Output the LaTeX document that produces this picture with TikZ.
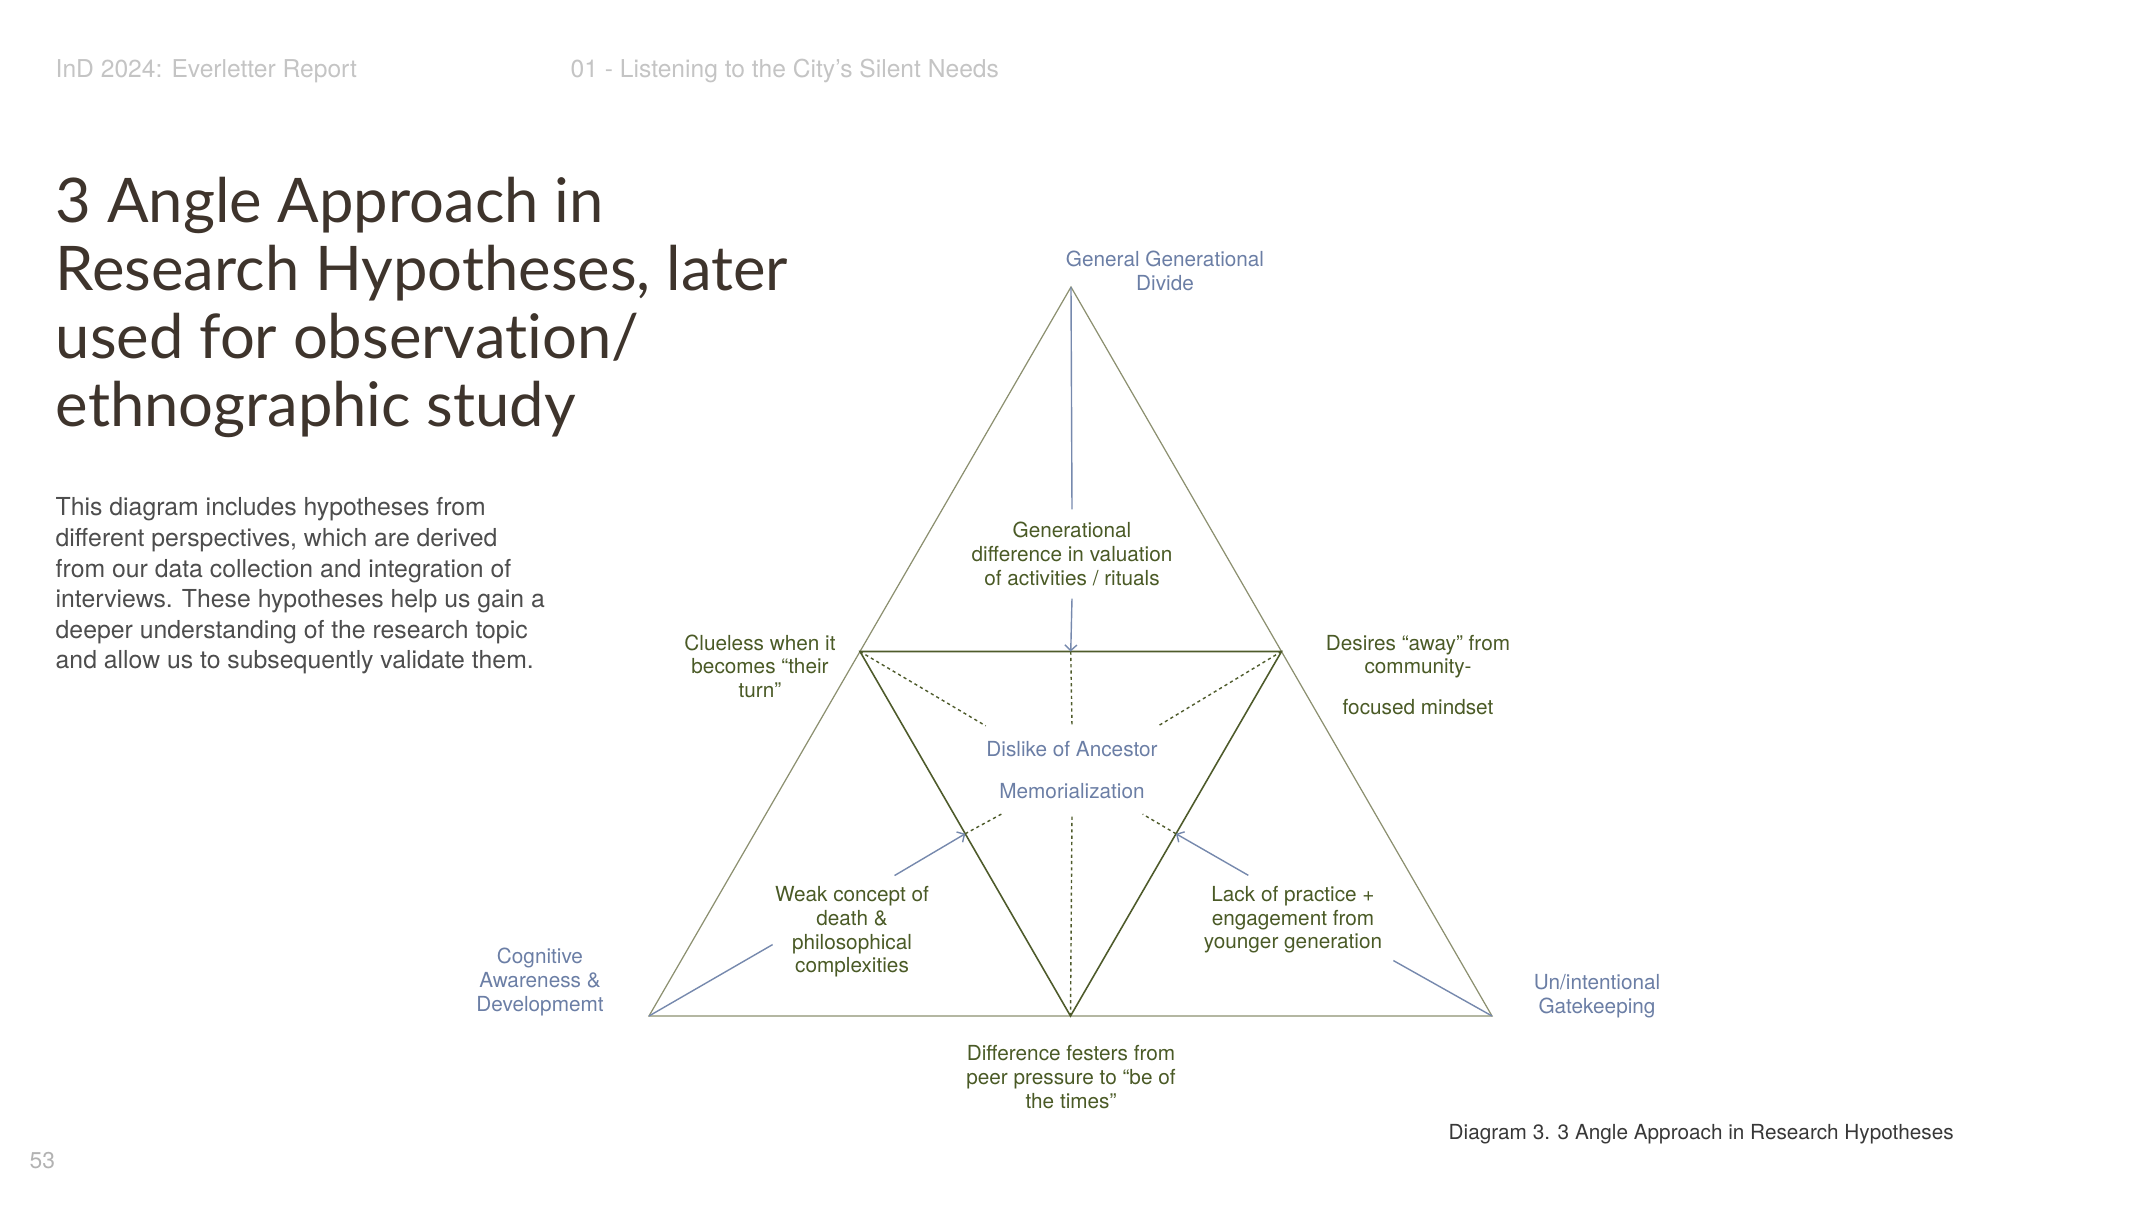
\documentclass[tikz,border=0pt]{standalone}
\usepackage{fontspec}
\setmainfont{TeX Gyre Heros}
\newfontfamily\titlefont[Ligatures=NoCommon]{Lato}
\usetikzlibrary{calc,arrows.meta}
\definecolor{hypgreen}{HTML}{4A5A26}
\definecolor{anglblue}{HTML}{6B7EA5}
\definecolor{linkblue}{HTML}{7689AD}
\definecolor{outerline}{HTML}{8C9070}
\definecolor{innerline}{HTML}{4E5B2B}
\definecolor{titlebrown}{HTML}{3E342C}
\definecolor{headgray}{HTML}{C4C4C4}
\definecolor{bodygray}{HTML}{4D4D4D}

\begin{document}
\begin{tikzpicture}[x=0.01cm,y=-0.01cm,>={Straight Barb[length=1.6pt,width=3.4pt]},
  hyp/.style={text=hypgreen,align=center,inner sep=3pt,font=\fontsize{5.9}{6.7}\selectfont},
  angl/.style={text=anglblue,align=center,inner sep=0pt,font=\fontsize{5.9}{6.7}\selectfont},
  head/.style={text=headgray,anchor=west,inner sep=0pt,font=\fontsize{7}{8.4}\selectfont},
  outer/.style={draw=outerline,line width=0.35pt},
  inner/.style={draw=innerline,line width=0.45pt},
  link/.style={draw=linkblue,line width=0.4pt},
  dotline/.style={draw=innerline,line width=0.4pt,dash pattern=on 0.9pt off 0.9pt}]
  \useasboundingbox (0,0) rectangle (2144,1206);

  \node[head] (report) at (55,71) {InD 2024: Everletter Report};
  \node[head] (chapter) at (570,71) {01 - Listening to the City’s Silent Needs};
  \node[anchor=north west,inner sep=0pt,align=left,text=titlebrown,
    font=\titlefont\fontsize{17.5}{19.35}\selectfont] (title) at (55,176)
    {3 Angle Approach in\\Research Hypotheses, later\\used for observation/\\ethnographic study};
  \node[anchor=north west,inner sep=0pt,align=left,text=bodygray,
    font=\fontsize{7.05}{8.7}\selectfont] (intro) at (55,497)
    {This diagram includes hypotheses from\\different perspectives, which are derived\\from our data collection and integration of\\interviews. These hypotheses help us gain a\\deeper understanding of the research topic\\and allow us to subsequently validate them.};

  % triangle corners
  \coordinate (A) at (1071,287);
  \coordinate (L) at (649,1016);
  \coordinate (R) at (1492,1016);
  \coordinate (P) at ($(A)!0.5!(L)$);
  \coordinate (Q) at ($(A)!0.5!(R)$);
  \coordinate (B) at ($(L)!0.5!(R)$);
  \coordinate (T) at ($(P)!0.5!(Q)$);
  \coordinate (M1) at ($(P)!0.5!(B)$);
  \coordinate (M2) at ($(Q)!0.5!(B)$);

  \draw[outer] (A) -- (L) -- (R) -- cycle;
  \draw[inner] (P) -- (Q) -- (B) -- cycle;

  \node[angl] (divide) at (1165,271) {General Generational\\Divide};
  \node[angl] (cognitive) at (540,982) {Cognitive\\Awareness \&\\Developmemt};
  \node[angl] (gate) at (1597,996) {Un/intentional\\Gatekeeping};
  \node[angl,inner xsep=0pt,inner ysep=4.3pt] (dislike) at (1072,770)
    {Dislike of Ancestor\\[5pt]Memorialization};

  \node[hyp,inner sep=3.5pt] (gdiff) at (1072,554)
    {Generational\\difference in valuation\\of activities / rituals};
  \node[hyp] (clueless) at (760,666) {Clueless when it\\becomes “their\\turn”};
  \node[hyp] (desires) at (1418,675) {Desires “away” from\\community-\\[5pt]focused mindset};
  \node[hyp,inner xsep=0.5pt] (weak) at (852,932) {Weak concept of\\death \&\\philosophical\\complexities};
  \node[hyp] (lack) at (1293,920) {Lack of practice +\\engagement from\\younger generation};
  \node[hyp] (festers) at (1071,1077) {Difference festers from\\peer pressure to “be of\\the times”};

  \draw[link] (A) -- (gdiff.north);
  \draw[link,->] (gdiff.south) -- (T);
  \draw[link,->] (weak.53) -- (M1);
  \draw[link,->] (lack.135) -- (M2);
  \draw[link] (L) -- (weak.189);
  \draw[link] (R) -- (lack.338);

  \foreach \from/\to in {T/north,B/south,P/north west,Q/north east,M1/212,M2/328}
    \draw[dotline] (\from) -- (dislike.\to);

  \node[anchor=west,inner sep=0pt,text=black!78,font=\fontsize{5.9}{7}\selectfont] (caption)
    at (1448,1134) {Diagram 3. 3 Angle Approach in Research Hypotheses};
  \node[anchor=west,inner sep=0pt,text=black!30,font=\fontsize{6.5}{7.5}\selectfont] (page)
    at (29,1161) {53};
\end{tikzpicture}
\end{document}
